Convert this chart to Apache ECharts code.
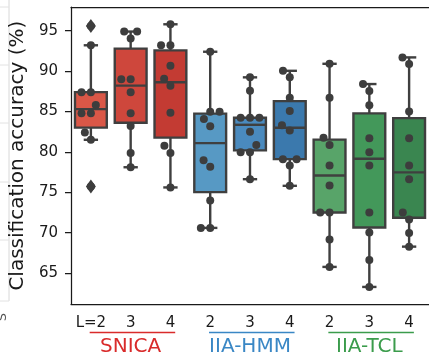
<!DOCTYPE html>
<html lang="en" style="height: 100%">
<head>
  <meta charset="utf-8">
</head>
<body style="height: 100%; margin: 0">
  <div id="container" style="height: 100%"></div>

  <script type="text/javascript" src="https://fastly.jsdelivr.net/npm/echarts@6/dist/echarts.min.js"></script>
  <script type="text/javascript">
    var dom = document.getElementById('container');
    var myChart = echarts.init(dom, null, { renderer: 'canvas' });

// labels under each box, and the three model groups
var xLabels = ['L=2', '3', '4', '2', '3', '4', '2', '3', '4'];
var groupNames = ['SNICA', 'IIA-HMM', 'IIA-TCL'];
var groupColors = ['#d92b2b', '#3a87c5', '#3b9c4c'];
var boxColors = ['#da5747', '#ce473c', '#c33b33', '#5799c4', '#4a8abe', '#3b79ad', '#58a469', '#43985a', '#3a8650'];
var yTicks = [65, 70, 75, 80, 85, 90, 95];

// accuracy of each run (%)
var snica2 = [95.6, 93.2, 87.4, 87.4, 85.8, 84.8, 84.8, 82.4, 81.5, 75.7];
var snica3 = [94.9, 94.9, 94.05, 89.0, 89.0, 87.4, 84.8, 83.2, 79.85, 78.1];
var snica4 = [95.8, 93.2, 93.2, 90.66, 89.05, 88.18, 84.84, 80.75, 79.85, 75.6];
var hmm2 = [92.4, 84.96, 84.96, 84.06, 83.19, 78.98, 78.15, 73.98, 70.59, 70.59];
var hmm3 = [89.23, 87.57, 84.22, 84.22, 84.22, 82.49, 80.84, 79.97, 79.97, 76.62];
var hmm4 = [90.04, 89.23, 86.7, 85.05, 83.31, 82.66, 79.1, 79.1, 78.3, 75.8];
var tcl2 = [90.91, 86.7, 81.74, 80.84, 78.32, 75.84, 72.5, 72.5, 69.15, 65.76];
var tcl3 = [88.4, 87.53, 85.79, 81.7, 79.97, 78.32, 72.5, 70.02, 66.62, 63.28];
var tcl4 = [91.7, 90.87, 85.0, 81.7, 78.32, 76.62, 72.5, 71.63, 69.97, 68.27];

var runs = [snica2, snica3, snica4, hmm2, hmm3, hmm4, tcl2, tcl3, tcl4];

// plot area
var gridLeft = 69, gridTop = 7, gridW = 363, gridH = 297.3;
var yMin = 61.13, yMax = 97.94;
var pxX = gridW / xLabels.length, pxY = gridH / (yMax - yMin);
var dotD = 9.5; // spacing of swarm dots, px

function quantile(s, q) {
  var pos = (s.length - 1) * q, lo = Math.floor(pos), f = pos - lo;
  return lo + 1 < s.length ? s[lo] + f * (s[lo + 1] - s[lo]) : s[lo];
}

// beeswarm offsets (in px) like seaborn
function swarm(vals) {
  var placed = [];
  var order = vals.slice().sort(function (a, b) { return a - b; });
  order.forEach(function (v) {
    var y = v * pxY;
    var cand = [0];
    placed.forEach(function (p) {
      var dy = Math.abs(p.y - y);
      if (dy < dotD) {
        var o = Math.sqrt(dotD * dotD - dy * dy);
        cand.push(p.x - o, p.x + o);
      }
    });
    var idx = cand.map(function (c, k) { return k; });
    idx.sort(function (a, b) { return Math.abs(cand[a]) - Math.abs(cand[b]) || a - b; });
    var x = 0;
    for (var k = 0; k < idx.length; k++) {
      var c = cand[idx[k]];
      var ok = placed.every(function (p) {
        var dx = p.x - c, dy = p.y - y;
        return Math.sqrt(dx * dx + dy * dy) >= dotD - 0.01;
      });
      if (ok) { x = c; break; }
    }
    placed.push({ x: x, y: y, v: v });
  });
  return placed;
}

var boxData = [], dotData = [], outData = [];
runs.forEach(function (r, i) {
  var s = r.slice().sort(function (a, b) { return a - b; });
  var q1 = quantile(s, 0.25), med = quantile(s, 0.5), q3 = quantile(s, 0.75);
  var iqr = q3 - q1;
  var inside = s.filter(function (v) { return v >= q1 - 1.5 * iqr && v <= q3 + 1.5 * iqr; });
  boxData.push([i, inside[0], q1, med, q3, inside[inside.length - 1]]);
  s.forEach(function (v) {
    if (v < q1 - 1.5 * iqr || v > q3 + 1.5 * iqr) outData.push([i, v]);
  });
  swarm(r).forEach(function (p) { dotData.push([i + p.x / pxX, p.v]); });
});

var edge = '#3f3f3f';

function renderBox(params, api) {
  var i = api.value(0);
  var w = api.size([1, 0])[0] * 0.8;
  var cap = w * 0.45;
  var lo = api.coord([i, api.value(1)]);
  var q1 = api.coord([i, api.value(2)]);
  var md = api.coord([i, api.value(3)]);
  var q3 = api.coord([i, api.value(4)]);
  var hi = api.coord([i, api.value(5)]);
  var x = md[0];
  var ls = { stroke: edge, lineWidth: 2.4 };
  return {
    type: 'group',
    children: [
      { type: 'line', shape: { x1: x, y1: hi[1], x2: x, y2: q3[1] }, style: ls },
      { type: 'line', shape: { x1: x, y1: q1[1], x2: x, y2: lo[1] }, style: ls },
      { type: 'line', shape: { x1: x - cap / 2, y1: hi[1], x2: x + cap / 2, y2: hi[1] }, style: ls },
      { type: 'line', shape: { x1: x - cap / 2, y1: lo[1], x2: x + cap / 2, y2: lo[1] }, style: ls },
      { type: 'rect', shape: { x: x - w / 2, y: q3[1], width: w, height: q1[1] - q3[1] },
        style: { fill: boxColors[i], stroke: edge, lineWidth: 2.4 } },
      { type: 'line', shape: { x1: x - w / 2, y1: md[1], x2: x + w / 2, y2: md[1] }, style: ls }
    ]
  };
}

var font = 'DejaVu Sans';
var ink = '#1a1a1a';

option = {
  animation: false,
  grid: { left: gridLeft, top: gridTop, width: gridW, height: gridH },
  xAxis: [
    {
      type: 'category',
      data: xLabels,
      axisLine: { onZero: false, lineStyle: { color: ink, width: 1.25 } },
      axisTick: { alignWithLabel: true, length: 6, lineStyle: { color: ink, width: 1.25 } },
      axisLabel: { fontSize: 15, color: ink, margin: 11, fontFamily: font },
      splitLine: { show: false }
    },
    {
      type: 'value',
      min: -0.5,
      max: 8.5,
      position: 'top',
      axisLine: { show: true, onZero: false, lineStyle: { color: ink, width: 1.25 } },
      axisTick: { show: false },
      axisLabel: { show: false },
      splitLine: { show: false }
    }
  ],
  yAxis: {
    type: 'value',
    min: yMin,
    max: yMax,
    name: 'Classification accuracy (%)',
    nameLocation: 'middle',
    nameGap: 40,
    nameTextStyle: { fontSize: 20, color: ink, fontFamily: font },
    axisLine: { show: true, onZero: false, lineStyle: { color: ink, width: 1.25 } },
    axisTick: { show: true, length: 6, customValues: yTicks, lineStyle: { color: ink, width: 1.25 } },
    axisLabel: { fontSize: 15, color: ink, margin: 13, fontFamily: font, customValues: yTicks },
    splitLine: { show: false }
  },
  series: [
    {
      type: 'custom',
      xAxisIndex: 0,
      renderItem: renderBox,
      encode: { x: 0, y: [1, 2, 3, 4, 5] },
      data: boxData,
      z: 2
    },
    {
      type: 'scatter',
      xAxisIndex: 1,
      symbolSize: 8,
      itemStyle: { color: '#3d3d3d', opacity: 1 },
      data: dotData,
      z: 3
    },
    {
      type: 'scatter',
      xAxisIndex: 1,
      symbol: 'diamond',
      symbolSize: [10, 14],
      itemStyle: { color: '#3d3d3d', opacity: 1 },
      data: outData,
      z: 4
    }
  ]
};

myChart.setOption(option);

// group names with coloured underline
var graphics = [];
groupNames.forEach(function (g, k) {
  var x0 = myChart.convertToPixel({ xAxisIndex: 1 }, k * 3 - 0.03);
  var x1 = myChart.convertToPixel({ xAxisIndex: 1 }, k * 3 + 2.12);
  var xc = myChart.convertToPixel({ xAxisIndex: 1 }, k * 3 + 1);
  graphics.push({
    type: 'line', shape: { x1: x0, y1: 332.5, x2: x1, y2: 332.5 },
    style: { stroke: groupColors[k], lineWidth: 1.5 }
  });
  graphics.push({
    type: 'text', x: xc, y: 347,
    style: { text: g, fill: groupColors[k], fontSize: 20, fontFamily: font, align: 'center', verticalAlign: 'middle' }
  });
});
// bits of the neighbouring figure at the left edge
graphics.push({ type: 'line', shape: { x1: 9, y1: 0, x2: 9, y2: 301 }, style: { stroke: '#d8d8d8', lineWidth: 1 } });
[7, 65, 123, 182, 240, 301].forEach(function (y) {
  graphics.push({ type: 'line', shape: { x1: 0, y1: y, x2: 9, y2: y }, style: { stroke: '#e2e2e2', lineWidth: 1 } });
});
graphics.push({
  type: 'text', x: 3, y: 317, rotation: Math.PI / 2,
  style: { text: 'S', fill: '#555', fontSize: 13, fontFamily: font, align: 'center', verticalAlign: 'middle' }
});
myChart.setOption({ graphic: graphics });

    window.addEventListener('resize', myChart.resize);
  </script>
</body>
</html>
